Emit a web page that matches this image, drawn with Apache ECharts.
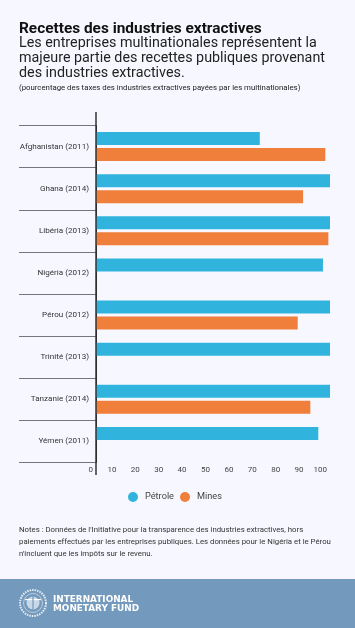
<!DOCTYPE html>
<html>
<head>
<meta charset="utf-8">
<style>
  html, body { margin: 0; padding: 0; background: #f7f8ff; }
  #chart { width: 355px; height: 628px; }
</style>
<script src="https://cdn.jsdelivr.net/npm/echarts@6/dist/echarts.min.js"></script>
</head>
<body>
<div id="chart"></div>
<script>
const categories = ['Afghanistan (2011)', 'Ghana (2014)', 'Libéria (2013)', 'Nigéria (2012)', 'Pérou (2012)', 'Trinité (2013)', 'Tanzanie (2014)', 'Yémen (2011)'];
const petrole = [70, 100, 100, 97, 100, 100, 100, 95];
const mines = [98, 88.5, 99.3, null, 86.2, null, 91.6, null];

const FONT = 'Roboto';
const chart = echarts.init(document.getElementById('chart'));

chart.setOption({
  animation: false,
  backgroundColor: '#f7f8ff',
  textStyle: { fontFamily: FONT },
  title: [
    {
      text: 'Recettes des industries extractives',
      left: 19, top: 21, padding: 0,
      textStyle: { fontFamily: FONT, fontSize: 15.4, fontWeight: 'bold', color: '#111', lineHeight: 16 },
    },
    {
      text: 'Les entreprises multinationales représentent la\nmajeure partie des recettes publiques provenant\ndes industries extractives.',
      left: 19, top: 36, padding: 0,
      textStyle: { fontFamily: FONT, fontSize: 14.3, fontWeight: 'normal', color: '#222', lineHeight: 15 },
    },
    {
      text: '(pourcentage des taxes des industries extractives payées par les multinationales)',
      left: 19, top: 83, padding: 0,
      textStyle: { fontFamily: FONT, fontSize: 7.8, fontWeight: 'normal', color: '#222', lineHeight: 10 },
    },
    {
      text: "Notes : Données de l'Initiative pour la transparence des industries extractives, hors\npaiements effectués par les entreprises publiques. Les données pour le Nigéria et le Pérou\nn'incluent que les impôts sur le revenu.",
      left: 19, top: 523.5, padding: 0,
      textStyle: { fontFamily: FONT, fontSize: 7.8, fontWeight: 'normal', color: '#333', lineHeight: 12.4 },
    },
  ],
  legend: {
    left: 128, top: 492, padding: 0,
    icon: 'circle',
    itemWidth: 10, itemHeight: 10, itemGap: 6,
    textStyle: { fontFamily: FONT, fontSize: 9.2, color: '#444', padding: [0, 0, 0, 2] },
    data: ['Pétrole', 'Mines'],
  },
  grid: { left: 96, right: 25, top: 125.5, bottom: 165.5 },
  xAxis: {
    type: 'value',
    min: 0, max: 100, interval: 10,
    splitLine: { show: false },
    axisLine: { show: false },
    axisTick: { show: false },
    axisLabel: {
      align: 'right', margin: 3, padding: [0, 3, 0, 0],
      fontFamily: FONT, fontSize: 8, color: '#444',
    },
  },
  yAxis: {
    type: 'category',
    inverse: true,
    data: categories,
    axisLine: { show: true, lineStyle: { color: '#222', width: 1 } },
    axisTick: { show: true, length: 77, lineStyle: { color: '#77757c', width: 1 } },
    axisLabel: { margin: 7, fontFamily: FONT, fontSize: 8.1, color: '#333' },
  },
  series: [
    { name: 'Pétrole', type: 'bar', data: petrole, barWidth: 13, barGap: '23%', itemStyle: { color: '#30b4de' } },
    { name: 'Mines', type: 'bar', data: mines, barWidth: 13, barGap: '23%', itemStyle: { color: '#ef7f3a' } },
  ],
  graphic: [
    // l'axe dépasse de la grille en haut et en bas
    { type: 'line', z: 10, shape: { x1: 96, y1: 112, x2: 96, y2: 475 }, style: { stroke: '#333', lineWidth: 1.5 } },
    { type: 'rect', z: 1, shape: { x: 0, y: 579, width: 355, height: 49 }, style: { fill: '#7399bc' } },
    // logo
    { type: 'circle', z: 2, shape: { cx: 33, cy: 603, r: 13 }, style: { fill: 'none', stroke: '#e8eef4', lineWidth: 2, lineDash: [1.5, 1] } },
    { type: 'circle', z: 2, shape: { cx: 33, cy: 603, r: 9.5 }, style: { fill: 'none', stroke: '#e8eef4', lineWidth: 0.6 } },
    { type: 'circle', z: 2, shape: { cx: 33, cy: 603, r: 6.5 }, style: { fill: '#c9d8e6' } },
    { type: 'rect', z: 2, shape: { x: 25, y: 599, width: 16, height: 1.2 }, style: { fill: '#fff' } },
    { type: 'rect', z: 2, shape: { x: 32.4, y: 596, width: 1.2, height: 14 }, style: { fill: '#7399bc' } },
    {
      type: 'text', z: 2, left: 53, top: 595,
      style: {
        text: 'INTERNATIONAL\nMONETARY FUND',
        fill: '#fff', font: 'bold 8.9px "DejaVu Sans"', lineHeight: 9,
      },
    },
  ],
});
</script>
</body>
</html>
